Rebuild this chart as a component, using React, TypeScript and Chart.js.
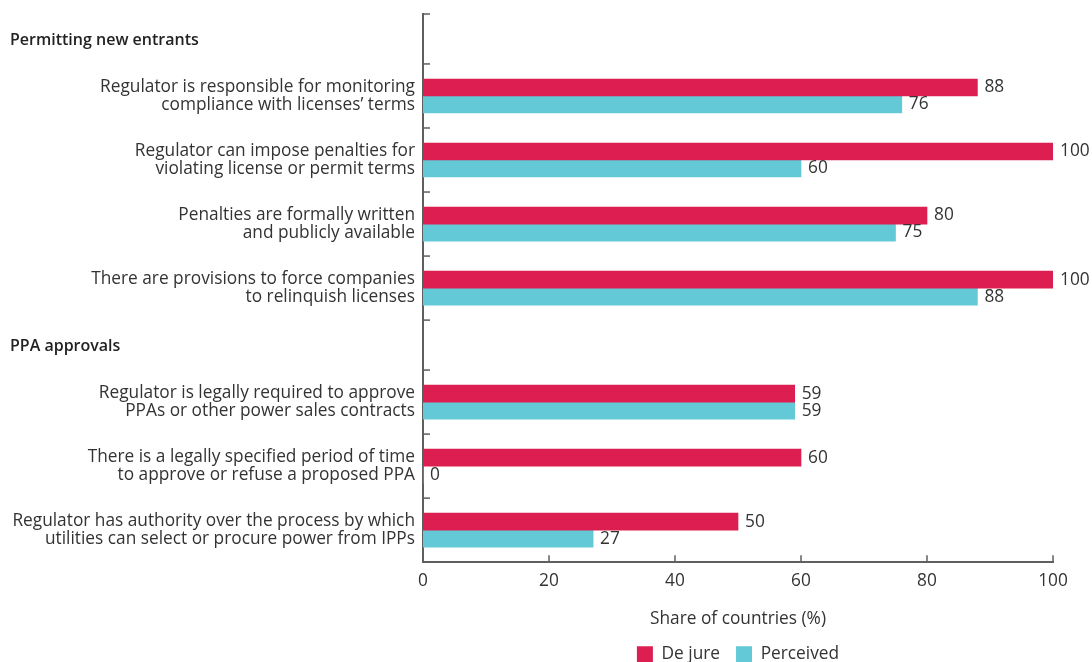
import React, { useEffect, useRef } from 'react';
import { Chart, registerables, CategoryScale } from 'chart.js';

Chart.register(...registerables);

const categories: (string | string[])[] = [
  'Permitting new entrants',
  ['Regulator is responsible for monitoring', 'compliance with licenses’ terms'],
  ['Regulator can impose penalties for', 'violating license or permit terms'],
  ['Penalties are formally written', 'and publicly available'],
  ['There are provisions to force companies', 'to relinquish licenses'],
  'PPA approvals',
  ['Regulator is legally required to approve', 'PPAs or other power sales contracts'],
  ['There is a legally specified period of time', 'to approve or refuse a proposed PPA'],
  ['Regulator has authority over the process by which', 'utilities can select or procure power from IPPs'],
];
const headerRows = ['Permitting new entrants', 'PPA approvals'];
const deJure = [null, 88, 100, 80, 100, null, 59, 60, 50];
const perceived = [null, 76, 60, 75, 88, null, 59, 0, 27];
const xTicks = [0, 20, 40, 60, 80, 100];

const FONT = '"Open Sans", sans-serif';
const FS = 17.3;
const TEXT = '#333333';
const AXIS = '#5f5f5f';
const HEADER_WEIGHT = 0.78;

const isHeader = (l: any) => typeof l === 'string' && headerRows.includes(l);

class RowScale extends CategoryScale {
  static id = 'rowCategory';
  getPixelForValue(value: any) {
    let v = value;
    if (typeof v !== 'number') v = (this as any).parse(v);
    if (v === null || v === undefined || isNaN(v)) return NaN;
    const labels = (this as any).getLabels();
    const w = labels.map((l: any) => (isHeader(l) ? HEADER_WEIGHT : 1));
    const n = w.length;
    const cum: number[] = [0];
    for (let k = 0; k < n; k++) cum.push(cum[k] + w[k]);
    const total = cum[n];
    let i = Math.round(v);
    if (i < 0) i = 0;
    if (i > n - 1) i = n - 1;
    const pos = cum[i] + w[i] * (v - i + 0.5);
    return (this as any).getPixelForDecimal(pos / total);
  }
}
Chart.register(RowScale as any);

const marksPlugin = {
  id: 'marks',
  afterDraw(chart: any) {
    const { ctx, chartArea, scales } = chart;
    const x = scales.x;
    const y = scales.y;
    ctx.save();
    ctx.strokeStyle = AXIS;
    ctx.lineWidth = 1.5;
    const n = chart.data.labels.length;
    for (let i = 0; i <= n; i++) {
      const py = y.getPixelForValue(i - 0.5);
      ctx.beginPath();
      ctx.moveTo(chartArea.left, py);
      ctx.lineTo(chartArea.left + 7, py);
      ctx.stroke();
    }
    x.ticks.forEach((_t: any, i: number) => {
      const px = x.getPixelForTick(i);
      ctx.beginPath();
      ctx.moveTo(px, chartArea.bottom);
      ctx.lineTo(px, chartArea.bottom - 7);
      ctx.stroke();
    });
    // group headers
    ctx.font = `600 16px ${FONT}`;
    ctx.fillStyle = '#222222';
    ctx.textAlign = 'left';
    ctx.textBaseline = 'middle';
    chart.data.labels.forEach((l: any, i: number) => {
      if (isHeader(l)) ctx.fillText(l, 10, y.getPixelForValue(i) + 1);
    });
    // value labels
    ctx.font = `${FS}px ${FONT}`;
    ctx.fillStyle = TEXT;
    chart.data.datasets.forEach((ds: any, di: number) => {
      const meta = chart.getDatasetMeta(di);
      meta.data.forEach((el: any, i: number) => {
        const v = ds.data[i];
        if (v === null || v === undefined) return;
        ctx.fillText(String(v), el.x + 7, el.y);
      });
    });
    ctx.restore();
  },
};

export default function App() {
  const ref = useRef<HTMLCanvasElement | null>(null);
  useEffect(() => {
    if (!ref.current) return;
    const chart = new Chart(ref.current, {
      type: 'bar',
      data: {
        labels: categories as any,
        datasets: [
          { label: 'De jure', data: deJure as any, backgroundColor: '#DC1F50', borderWidth: 0, barThickness: 17 },
          { label: 'Perceived', data: perceived as any, backgroundColor: '#63C9D7', borderWidth: 0, barThickness: 17 },
        ],
      },
      options: {
        indexAxis: 'y',
        animation: false,
        responsive: true,
        maintainAspectRatio: false,
        events: [],
        layout: { padding: { top: 14, right: 39, left: 0, bottom: -11 } },
        scales: {
          y: {
            type: 'rowCategory' as any,
            offset: true,
            grid: { display: false, drawTicks: false },
            border: { display: true, color: AXIS, width: 2 },
            ticks: {
              padding: 8,
              color: TEXT,
              font: { family: FONT, size: FS, lineHeight: 1.05 },
              autoSkip: false,
              callback: function (this: any, value: any, index: number) {
                const l = categories[index];
                return isHeader(l) ? '' : l;
              },
            },
            afterFit: (scale: any) => {
              scale.width = 423;
              scale.paddingTop = 0;
              scale.paddingBottom = 0;
            },
          },
          x: {
            type: 'linear',
            min: 0,
            max: 100,
            afterBuildTicks: (scale: any) => {
              scale.ticks = xTicks.map((v) => ({ value: v }));
            },
            grid: { display: false, drawTicks: false },
            border: { display: true, color: AXIS, width: 2 },
            ticks: {
              padding: 9,
              color: TEXT,
              font: { family: FONT, size: FS },
            },
            title: {
              display: true,
              text: 'Share of countries (%)',
              color: TEXT,
              font: { family: FONT, size: FS },
              padding: { top: 8, bottom: 0 },
            },
          },
        },
        plugins: {
          legend: {
            position: 'bottom',
            fullSize: false,
            labels: {
              boxWidth: 16,
              boxHeight: 16,
              padding: 16,
              color: TEXT,
              font: { family: FONT, size: FS },
            },
          },
          tooltip: { enabled: false },
        },
      } as any,
      plugins: [marksPlugin],
    });
    return () => chart.destroy();
  }, []);
  return (
    <div style={{ position: 'absolute', left: 0, top: 0, width: 1092, height: 662, background: '#fff' }}>
      <canvas ref={ref} />
    </div>
  );
}
